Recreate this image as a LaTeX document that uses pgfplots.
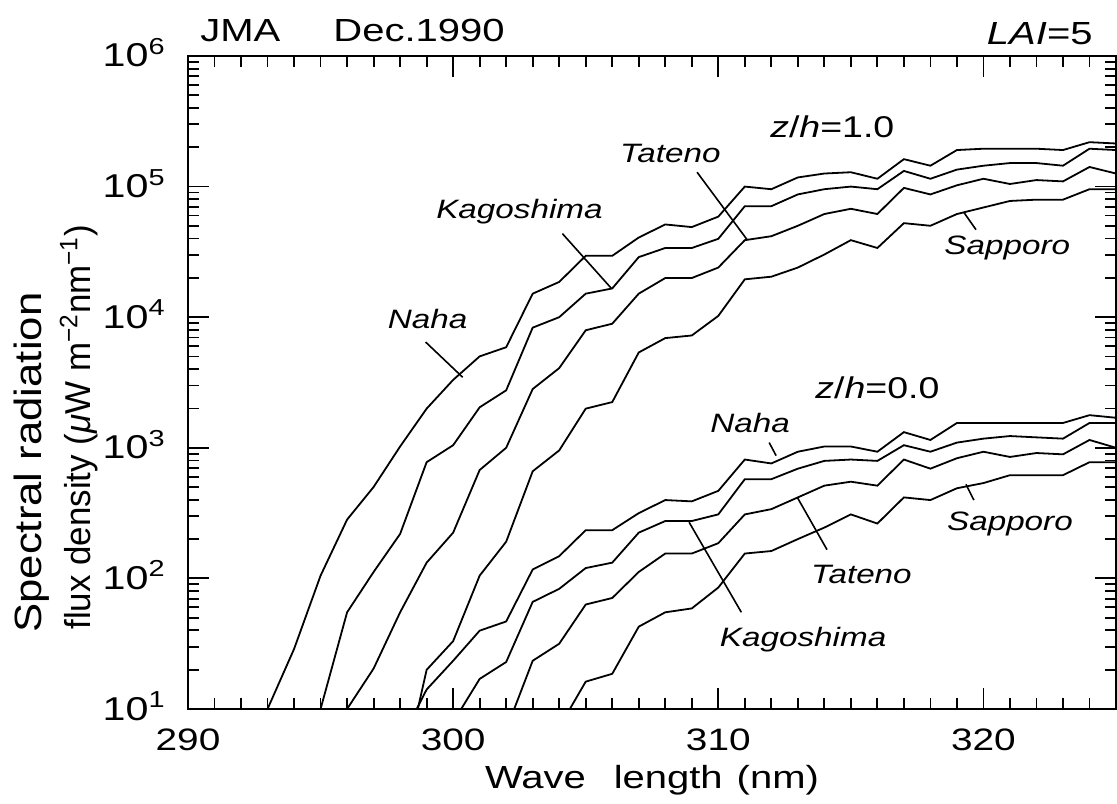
\documentclass[border=0pt]{standalone}
\usepackage{pgfplots}
\pgfplotsset{compat=1.18}
\usepackage{fontspec}
\setmainfont{Liberation Sans}[FakeStretch=1.25]
\newfontfamily\ylabfamA{Liberation Sans}[FakeStretch=1.15]
\newfontfamily\ylabfamB{Liberation Sans}[FakeStretch=0.97]
\newcommand{\lblfont}{\fontsize{13.3}{16}\selectfont}
\newcommand{\zhfont}{\fontsize{15}{18}\selectfont}
\pgfplotsset{curve/.style={black, line width=0.9pt, mark=none}}
\begin{document}
\begin{tikzpicture}
\begin{axis}[
  scale only axis, width=464pt, height=326.5pt,
  xmin=290, xmax=325, ymode=log, ymin=10, ymax=1e6,
  xtick={290,300,310,320}, xticklabels={290,300,310,320},
  minor xtick={291,292,293,294,295,296,297,298,299,301,302,303,304,305,306,307,308,309,311,312,313,314,315,316,317,318,319,321,322,323,324,325},
  ytick={10,100,1000,10000,100000,1000000},
  yticklabels={10\textsuperscript{1},10\textsuperscript{2},10\textsuperscript{3},10\textsuperscript{4},10\textsuperscript{5},10\textsuperscript{6}},
  minor ytick={20,30,40,50,60,70,80,90,200,300,400,500,600,700,800,900,2000,3000,4000,5000,6000,7000,8000,9000,20000,30000,40000,50000,60000,70000,80000,90000,200000,300000,400000,500000,600000,700000,800000,900000},
  tick align=inside,
  major tick length=10.5pt, minor tick length=5.5pt,
  tick style={black, line width=0.9pt},
  axis line style={line width=1.3pt},
  xticklabel style={font=\fontsize{15.5}{18}\selectfont, anchor=base, inner sep=0pt, yshift=-20.5pt},
  yticklabel style={font=\fontsize{16.5}{18}\selectfont, anchor=base east, inner sep=0pt, xshift=-11pt, yshift=-5.5pt},
  clip mode=individual,
]
% z/h=1.0 Naha
\addplot[curve] coordinates {(293,10)(294,28.8)(295,105)(296,282)(297,501)(298,1023)(299,1995)(300,3311)(301,5012)(302,5888)(303,15140)(304,18620)(305,29510)(306,29510)(307,40740)(308,51290)(309,48980)(310,58880)(311,100000)(312,95500)(313,117500)(314,125900)(315,128800)(316,114800)(317,162200)(318,144500)(319,190500)(320,195000)(321,195000)(322,195000)(323,190500)(324,218800)(325,213800)};
% z/h=1.0 Kagoshima
\addplot[curve] coordinates {(295,10)(296,55.0)(297,112)(298,219)(299,776)(300,1047)(301,2042)(302,2754)(303,8318)(304,10000)(305,15140)(306,16600)(307,28840)(308,33880)(309,33880)(310,39810)(311,70790)(312,70790)(313,87100)(314,95500)(315,100000)(316,95500)(317,131800)(318,114800)(319,134900)(320,144500)(321,151400)(322,151400)(323,144500)(324,195000)(325,190500)};
% z/h=1.0 Tateno
\addplot[curve] coordinates {(296,10)(297,20.4)(298,55.0)(299,132)(300,224)(301,676)(302,1000)(303,2818)(304,4074)(305,7943)(306,8913)(307,15140)(308,19950)(309,19950)(310,23990)(311,38900)(312,41690)(313,50120)(314,61660)(315,67610)(316,61660)(317,97720)(318,87100)(319,102300)(320,114800)(321,104700)(322,112200)(323,109600)(324,141300)(325,125900)};
% z/h=1.0 Sapporo
\addplot[curve] coordinates {(298,2.51)(299,19.95)(300,33.1)(301,105)(302,191)(303,661)(304,955)(305,1995)(306,2239)(307,5370)(308,6918)(309,7244)(310,10230)(311,19500)(312,20420)(313,23990)(314,30200)(315,38900)(316,33880)(317,52480)(318,50120)(319,61660)(320,69180)(321,77620)(322,79430)(323,79430)(324,95500)(325,95500)};
% z/h=0.0 Naha
\addplot[curve] coordinates {(298,5.62)(299,14.1)(300,23.4)(301,39.8)(302,46.8)(303,117)(304,148)(305,234)(306,234)(307,316)(308,398)(309,389)(310,468)(311,813)(312,759)(313,933)(314,1023)(315,1023)(316,933)(317,1318)(318,1148)(319,1549)(320,1549)(321,1549)(322,1549)(323,1549)(324,1778)(325,1698)};
% z/h=0.0 Kagoshima
\addplot[curve] coordinates {(300,7.94)(301,17.0)(302,22.9)(303,66.1)(304,83.2)(305,120)(306,132)(307,224)(308,275)(309,275)(310,309)(311,575)(312,575)(313,692)(314,794)(315,813)(316,794)(317,1047)(318,933)(319,1096)(320,1175)(321,1230)(322,1202)(323,1175)(324,1549)(325,1549)};
% z/h=0.0 Tateno
\addplot[curve] coordinates {(302,6.92)(303,23.4)(304,31.6)(305,63.1)(306,70.8)(307,112)(308,155)(309,155)(310,186)(311,309)(312,339)(313,417)(314,513)(315,550)(316,513)(317,813)(318,692)(319,832)(320,933)(321,851)(322,912)(323,891)(324,1148)(325,1000)};
% z/h=0.0 Sapporo
\addplot[curve] coordinates {(304,7.24)(305,16.2)(306,18.6)(307,42.7)(308,55.0)(309,58.9)(310,85.1)(311,155)(312,162)(313,200)(314,245)(315,309)(316,263)(317,417)(318,398)(319,490)(320,537)(321,617)(322,617)(323,617)(324,776)(325,776)};
% labels z/h=1.0
\node[font=\lblfont] at (axis cs:299.04,9772) {\textit{Naha}};
\draw[line width=0.8pt] (axis cs:298.96,6457) -- (axis cs:300.36,3467);
\node[font=\lblfont] at (axis cs:302.5,64570) {\textit{Kagoshima}};
\draw[line width=0.8pt] (axis cs:304.12,43650) -- (axis cs:305.97,16600);
\node[font=\lblfont] at (axis cs:308.19,177800) {\textit{Tateno}};
\draw[line width=0.8pt] (axis cs:309.2,128800) -- (axis cs:311.1,38900);
\node[font=\lblfont] at (axis cs:320.9,33880) {\textit{Sapporo}};
\draw[line width=0.8pt] (axis cs:319.27,63100) -- (axis cs:319.72,46770);
\node[font=\zhfont] at (axis cs:314.3,288400) {\textit{z}/\textit{h}=1.0};
% labels z/h=0.0
\node[font=\zhfont] at (axis cs:316.0,2884) {\textit{z}/\textit{h}=0.0};
\node[font=\lblfont] at (axis cs:311.2,1549) {\textit{Naha}};
\draw[line width=0.8pt] (axis cs:311.92,1096) -- (axis cs:312.18,871);
\node[font=\lblfont] at (axis cs:313.2,33.9) {\textit{Kagoshima}};
\draw[line width=0.8pt] (axis cs:308.9,269) -- (axis cs:310.87,55);
\node[font=\lblfont] at (axis cs:315.4,107) {\textit{Tateno}};
\draw[line width=0.8pt] (axis cs:312.98,417) -- (axis cs:314.1,166);
\node[font=\lblfont] at (axis cs:321.0,263) {\textit{Sapporo}};
\draw[line width=0.8pt] (axis cs:319.34,525) -- (axis cs:319.64,398);
\end{axis}
\node[anchor=base west, inner sep=0pt, font=\fontsize{16}{19}\selectfont] at (6pt,333.7pt) {JMA};
\node[anchor=base west, inner sep=0pt, font=\fontsize{16}{19}\selectfont] at (72.5pt,333.7pt) {Dec.1990};
\node[anchor=base east, inner sep=0pt, font=\fontsize{16}{19}\selectfont] at (452.5pt,332pt) {\textit{LAI}=5};
\node[anchor=base, inner sep=0pt, font=\fontsize{16}{18}\selectfont] at (232pt,-39.5pt) {Wave\hspace{14pt}length\hspace{7pt}(nm)};
\node[rotate=90, anchor=base west, inner sep=0pt, font=\ylabfamA\fontsize{19}{22}\selectfont] at (-73pt,38pt) {Spectral radiation};
\node[rotate=90, anchor=base west, inner sep=0pt, font=\ylabfamB\fontsize{18}{22}\selectfont] at (-49pt,39.5pt) {flux density (\textit{μ}W m\textsuperscript{−2}nm\textsuperscript{−1})};
\pgfresetboundingbox
\useasboundingbox (-94pt,-47pt) rectangle (464.5pt,354.5pt);
\end{tikzpicture}
\end{document}
